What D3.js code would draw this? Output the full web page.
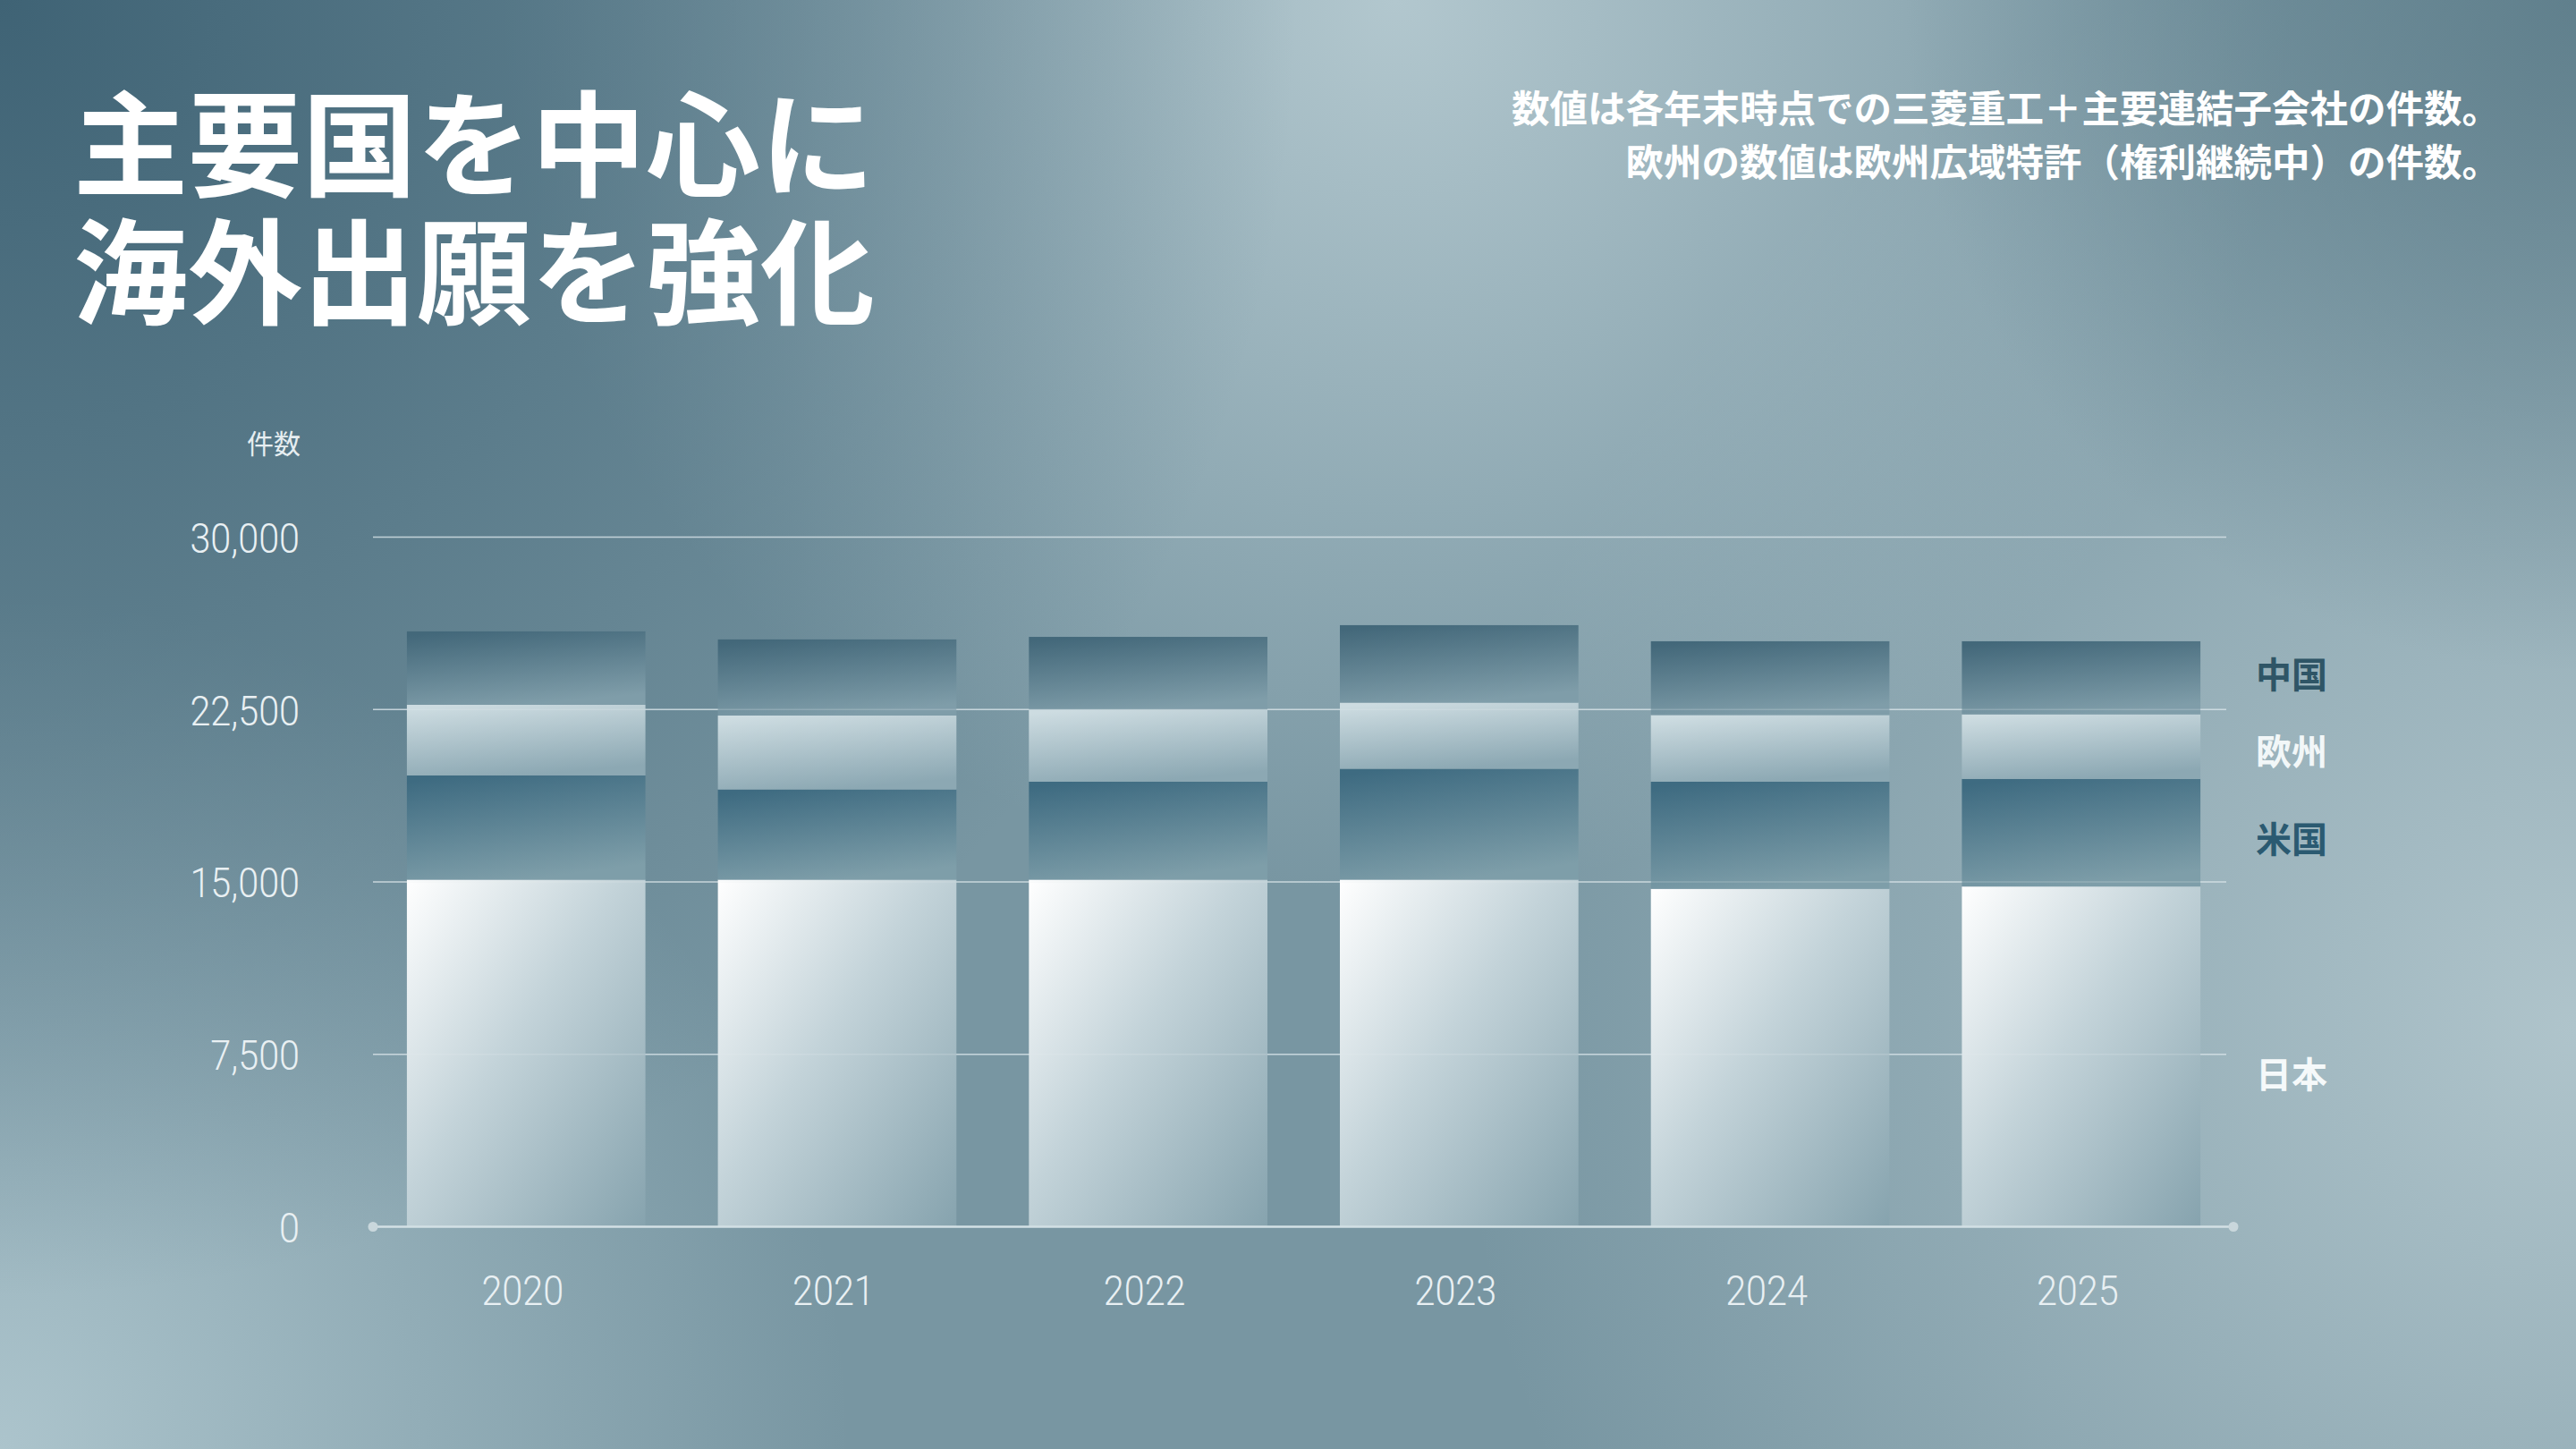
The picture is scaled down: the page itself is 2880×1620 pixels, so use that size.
<!DOCTYPE html>
<html>
<head>
<meta charset="utf-8">
<script src="https://cdnjs.cloudflare.com/ajax/libs/d3/7.8.5/d3.min.js"></script>
<style>
body {
    margin: 0;
    background: #7d9ba7;
}
svg text {
    font-family: "Noto Sans CJK JP", "Noto Sans", sans-serif;
}
.tick-num {
    font-family: Roboto, "Noto Sans", sans-serif;
    font-weight: 300;
}
</style>
</head>
<body>
<svg id="canvas" width="2880" height="1620"></svg>

<script>
// data (件数, stacked bottom -> top)
var years = ["2020", "2021", "2022", "2023", "2024", "2025"];
var japan = [15100, 15100, 15100, 15100, 14700, 14800];
var usa = [4530, 3920, 4260, 4820, 4660, 4680];
var europe = [3080, 3220, 3140, 2880, 2900, 2810];
var china = [3190, 3310, 3160, 3370, 3210, 3180];
var seriesNames = ["日本", "米国", "欧州", "中国"];
var yTicks = [0, 7500, 15000, 22500, 30000];

var svg = d3.select("#canvas");
var W = 2880, H = 1620;
var defs = svg.append("defs");

// ---- background ----
function radial(id, cx, cy, r, color, op) {
    var g = defs.append("radialGradient").attr("id", id)
        .attr("gradientUnits", "userSpaceOnUse")
        .attr("cx", cx).attr("cy", cy).attr("r", r);
    g.append("stop").attr("offset", 0).attr("stop-color", color).attr("stop-opacity", op);
    g.append("stop").attr("offset", 1).attr("stop-color", color).attr("stop-opacity", 0);
}
radial("bgDarkTL", 0, 0, 1450, "#3f6375", 1);
radial("bgLightTop", 1560, 0, 1000, "#b2c7ce", 1);
radial("bgDarkTR", 2880, 0, 750, "#5d7d8a", 0.9);
radial("bgLightBL", 0, 1620, 950, "#acc4cc", 1);
radial("bgLightR", 2880, 1150, 1250, "#afc4cb", 1);

svg.append("rect").attr("width", W).attr("height", H).attr("fill", "#7896a2");
["bgLightR", "bgLightBL", "bgLightTop", "bgDarkTL", "bgDarkTR"].forEach(function (id) {
    svg.append("rect").attr("width", W).attr("height", H).attr("fill", "url(#" + id + ")");
});

// ---- bar gradients ----
function linear(id, x1, y1, x2, y2, stops) {
    var g = defs.append("linearGradient").attr("id", id)
        .attr("x1", x1).attr("y1", y1).attr("x2", x2).attr("y2", y2);
    stops.forEach(function (s) {
        g.append("stop").attr("offset", s[0]).attr("stop-color", s[1]);
    });
}
linear("gJapan", 0, 0, 1, 1, [[0, "#ffffff"], [0.45, "#c3d3d9"], [1, "#86a3ae"]]);
linear("gUsa", 0.2, 0, 0.5, 1, [[0, "#3e6b81"], [1, "#7e9ea9"]]);
linear("gEurope", 0.2, 0, 0.5, 1, [[0, "#cddce1"], [1, "#8ca8b3"]]);
linear("gChina", 0.2, 0, 0.5, 1, [[0, "#43687a"], [1, "#7f9da9"]]);
var fills = ["url(#gJapan)", "url(#gUsa)", "url(#gEurope)", "url(#gChina)"];
var labelColors = ["#f5f9fa", "#2b5a71", "#f2f7f8", "#2f5566"];
var labelNudge = [20, 8, 6, -3];

// ---- scales ----
var x = d3.scaleBand().domain(years).range([417, 2498])
    .paddingInner(0.233).paddingOuter(0.109);
var y = d3.scaleLinear().domain([0, 30000]).range([1371.5, 600.5]);

var rows = years.map(function (yr, i) {
    return { year: yr, "日本": japan[i], "米国": usa[i], "欧州": europe[i], "中国": china[i] };
});
var stack = d3.stack().keys(seriesNames)(rows);

// ---- grid (behind) ----
var gridVals = yTicks.filter(function (d) { return d > 0; });
svg.append("g").selectAll("line").data(gridVals).enter().append("line")
    .attr("x1", 417).attr("x2", 2489)
    .attr("y1", function (d) { return y(d); }).attr("y2", function (d) { return y(d); })
    .attr("stroke", "#d4e2e7").attr("stroke-opacity", 0.75).attr("stroke-width", 1.6);

// ---- bars ----
var layers = svg.append("g").selectAll("g").data(stack).enter().append("g")
    .attr("fill", function (d, i) { return fills[i]; });
layers.selectAll("rect").data(function (d) { return d; }).enter().append("rect")
    .attr("x", function (d) { return x(d.data.year); })
    .attr("width", x.bandwidth())
    .attr("y", function (d) { return y(d[1]); })
    .attr("height", function (d) { return y(d[0]) - y(d[1]); });

// faint grid over bars
svg.append("g").selectAll("line").data(gridVals).enter().append("line")
    .attr("x1", 417).attr("x2", 2489)
    .attr("y1", function (d) { return y(d); }).attr("y2", function (d) { return y(d); })
    .attr("stroke", "#e6eef1").attr("stroke-opacity", 0.22).attr("stroke-width", 1.6);

// ---- baseline with end dots ----
svg.append("line").attr("x1", 417).attr("x2", 2497)
    .attr("y1", y(0)).attr("y2", y(0))
    .attr("stroke", "#d3e0e5").attr("stroke-width", 2.6);
svg.selectAll("circle.end").data([417, 2497]).enter().append("circle")
    .attr("class", "end")
    .attr("cx", function (d) { return d; }).attr("cy", y(0)).attr("r", 5.5)
    .attr("fill", "#c9d7dc");

// ---- axes ----
var yAxis = svg.append("g").attr("transform", "translate(335,0)")
    .call(d3.axisLeft(y).tickValues(yTicks).tickSize(0).tickPadding(0).tickFormat(d3.format(",")));
yAxis.select(".domain").remove();
yAxis.selectAll("text")
    .attr("class", "tick-num")
    .attr("x", 0).attr("dy", "0.36em")
    .attr("font-size", 47)
    .attr("fill", "#e9f0f3")
    .attr("transform", "scale(0.88,1)");

var xAxis = svg.append("g").attr("transform", "translate(0," + y(0) + ")")
    .call(d3.axisBottom(x).tickSize(0).tickPadding(0));
xAxis.select(".domain").remove();
xAxis.selectAll("text")
    .attr("class", "tick-num")
    .attr("y", 88).attr("dy", 0)
    .attr("font-size", 47)
    .attr("fill", "#e9f0f3")
    .attr("transform", "scale(0.88,1)");
// keep labels centred after the horizontal squeeze
xAxis.selectAll(".tick").attr("transform", function (d) {
    return "translate(" + (x(d) + x.bandwidth() / 2 - 4) + ",0)";
});

svg.append("text").attr("x", 336).attr("y", 507)
    .attr("text-anchor", "end").attr("font-size", 30)
    .attr("fill", "#e6eef1").text("件数");

// ---- series labels at the right of the last bar ----
var last = years.length - 1;
svg.append("g").selectAll("text").data(stack).enter().append("text")
    .attr("x", 2522)
    .attr("y", function (d, i) { return y((d[last][0] + d[last][1]) / 2) + labelNudge[i]; })
    .attr("dy", "0.36em")
    .attr("font-size", 40).attr("font-weight", 700)
    .attr("fill", function (d, i) { return labelColors[i]; })
    .text(function (d) { return d.key; });

// ---- title & note ----
svg.append("text").attr("x", 82).attr("y", 210).attr("font-size", 128)
    .attr("font-weight", 700).attr("fill", "#ffffff").text("主要国を中心に");
svg.append("text").attr("x", 82).attr("y", 353).attr("font-size", 128)
    .attr("font-weight", 700).attr("fill", "#ffffff").text("海外出願を強化");

var note = svg.append("text").attr("text-anchor", "end").attr("font-size", 42.5)
    .attr("font-weight", 700).attr("fill", "#ffffff");
note.append("tspan").attr("x", 2795).attr("y", 137).text("数値は各年末時点での三菱重工＋主要連結子会社の件数。");
note.append("tspan").attr("x", 2795).attr("y", 197).text("欧州の数値は欧州広域特許（権利継続中）の件数。");
</script>
</body>
</html>
